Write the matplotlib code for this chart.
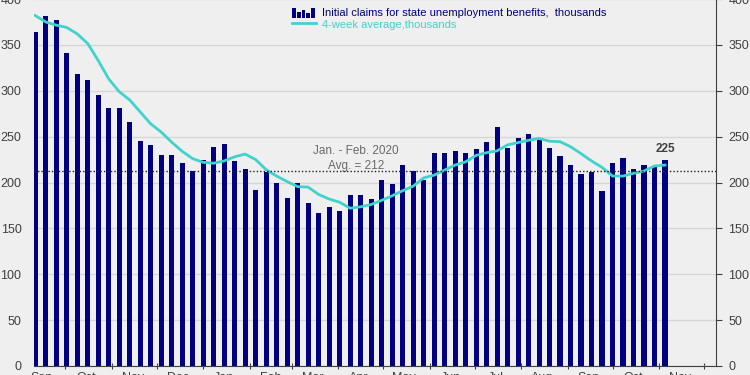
import matplotlib
matplotlib.use("Agg")
import matplotlib.pyplot as plt
import matplotlib.dates as mdates
from matplotlib.legend_handler import HandlerBase
from matplotlib.patches import Rectangle
from matplotlib.lines import Line2D
import pandas as pd

# weekly initial claims, thousands (week ending dates)
weeks = pd.date_range("2021-09-11", periods=61, freq="7D")
claims = [364, 381, 377, 341, 318, 312, 295, 281, 281, 266, 245, 241, 230, 230,
          221, 212, 224, 239, 242, 223, 215, 192, 211, 199, 183, 199, 178, 167,
          173, 169, 186, 186, 182, 203, 198, 219, 212, 203, 232, 232, 234, 232,
          236, 244, 261, 238, 249, 253, 246, 238, 229, 219, 209, 211, 191, 221,
          227, 215, 219, 218, 225]
avg_4wk = [382, 375, 371.5, 369, 362, 351.5, 333, 313, 299, 290, 277, 264, 255,
           244, 234, 226, 222, 221, 223.5, 228, 231, 225, 214, 207, 201, 195.5,
           195, 187, 182, 178.5, 172, 173.5, 176, 180.5, 185.5, 191, 196, 205,
           208, 213.5, 219, 222.5, 229.5, 232.5, 234.5, 241, 243.5, 246, 248,
           245, 244.5, 239, 231.5, 223.5, 216.5, 207, 207, 210, 212.5, 218, 219]
month_labels = ["Sep", "Oct", "Nov", "Dec", "Jan", "Feb", "Mar", "Apr", "May",
                "Jun", "Jul", "Aug", "Sep", "Oct", "Nov"]
pre_covid_avg = 212

NAVY = "#000080"
TURQ = "#3fd3cb"
GREY = "#404040"
BG = "#efefef"

plt.rcParams["font.family"] = ["Liberation Sans", "DejaVu Sans"]


class BarIconHandler(HandlerBase):
    """little bar-chart icon for the legend"""
    def create_artists(self, legend, orig_handle, xdescent, ydescent,
                       width, height, fontsize, trans):
        hs = [1.0, 0.55, 0.8, 0.5, 1.0]
        w = width / len(hs)
        arts = []
        for i, h in enumerate(hs):
            r = Rectangle((-xdescent + i * w, -ydescent - 0.1 * height), w * 0.8,
                          height * 1.1 * h, facecolor=NAVY, edgecolor="none",
                          transform=trans)
            arts.append(r)
        return arts


fig = plt.figure(figsize=(7.5, 3.75), dpi=100, facecolor=BG)
ax = fig.add_axes([34 / 750, 9 / 375, 682 / 750, 367 / 375])
ax.set_facecolor(BG)

ax.bar(weeks, claims, width=3.4, color=NAVY, zorder=3)
ax.plot(weeks, avg_4wk, color=TURQ, lw=2, zorder=4)
ax.axhline(pre_covid_avg, color="#222222", lw=1, ls=(0, (1, 1.5)), zorder=5)

ax.set_ylim(0, 400)
ax.set_xlim(weeks[0] - pd.Timedelta(days=0.8), pd.Timestamp("2022-12-09"))
ax.set_yticks(range(0, 401, 50))
ax.grid(axis="y", color="#d6d6d6", lw=1, zorder=0)

# month ticks at month start, labels mid-month
ax.xaxis.set_major_locator(mdates.MonthLocator())
ax.xaxis.set_major_formatter(plt.NullFormatter())
mids = pd.date_range("2021-09-01", periods=len(month_labels), freq="MS") + pd.Timedelta(days=14)
ax.set_xticks(mids, minor=True)
ax.set_xticklabels(month_labels, minor=True)
ax.tick_params(axis="x", which="major", direction="inout", length=5, color=GREY)
ax.tick_params(axis="x", which="minor", length=0, pad=4, labelsize=9, labelcolor=GREY)

ax.tick_params(axis="y", which="both", left=False, right=True, labelleft=True,
               labelright=True, direction="out", length=4, pad=5,
               labelsize=9, labelcolor=GREY, color=GREY)

for s in ["top", "left"]:
    ax.spines[s].set_visible(False)
for s in ["bottom", "right"]:
    ax.spines[s].set_color(GREY)
    ax.spines[s].set_zorder(6)

ax.text(0.472, 226, "Jan. - Feb. 2020\nAvg. = 212", transform=ax.get_yaxis_transform(),
        ha="center", va="center", fontsize=8.5, color="#6a6a6a", linespacing=1.35)
ax.annotate(f"{claims[-1]}", (weeks[-1], claims[-1]), xytext=(0, 3),
            textcoords="offset points", ha="center", va="bottom",
            fontsize=8.5, fontweight="bold", color=GREY)

handles = [Rectangle((0, 0), 1, 1), Line2D([], [], color=TURQ, lw=2)]
labels = ["Initial claims for state unemployment benefits,  thousands",
          "4-week average,thousands"]
ax.legend(handles, labels, handler_map={Rectangle: BarIconHandler()},
          loc="upper left", bbox_to_anchor=(0.378, 0.975), frameon=False,
          fontsize=8, labelcolor=[NAVY, TURQ], handlelength=2.2,
          handleheight=0.8, handletextpad=0.5, labelspacing=0.1,
          borderaxespad=0, borderpad=0)

fig.savefig("out.png", dpi=100, facecolor=BG)
